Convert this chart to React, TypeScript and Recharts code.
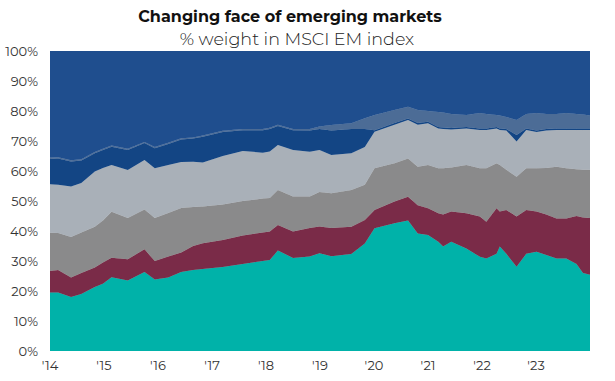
import React from "react";
import { AreaChart, Area, XAxis, YAxis } from "recharts";

// sample dates (fractional years)
const dates = [
  2014.0, 2014.15, 2014.39, 2014.58, 2014.83, 2014.98, 2015.14, 2015.44, 2015.75, 2015.94,
  2016.19, 2016.43, 2016.65, 2016.83, 2017.2, 2017.57, 2017.94, 2018.07, 2018.22, 2018.5,
  2018.81, 2018.99, 2019.21, 2019.58, 2019.83, 2020.01, 2020.38, 2020.63, 2020.81, 2021.0,
  2021.19, 2021.28, 2021.43, 2021.71, 2021.96, 2022.08, 2022.27, 2022.33, 2022.45, 2022.64,
  2022.82, 2023.01, 2023.19, 2023.38, 2023.56, 2023.75, 2023.87, 2024.0,
];

// % weight of each band, bottom to top
const teal = [
  19.5, 19.5, 18.0, 19.0, 21.3, 22.4, 24.6, 23.5, 26.3, 23.8,
  24.5, 26.3, 27.0, 27.3, 28.0, 29.0, 30.0, 30.3, 33.5, 31.0,
  31.5, 32.6, 31.6, 32.3, 35.8, 40.9, 42.6, 43.5, 39.2, 38.7,
  36.4, 34.8, 36.4, 34.2, 31.4, 30.8, 32.4, 34.8, 32.4, 28.1,
  32.4, 33.1, 32.0, 30.8, 30.8, 29.0, 26.0, 25.4,
];
const maroon = [
  7.2, 7.5, 6.5, 7.0, 6.5, 7.1, 6.5, 7.1, 7.6, 6.2,
  7.0, 6.5, 8.0, 8.6, 9.0, 9.5, 9.5, 9.5, 8.5, 8.8,
  9.5, 8.9, 9.4, 9.1, 7.9, 6.1, 7.2, 7.9, 9.4, 8.9,
  9.5, 10.7, 10.1, 11.7, 13.4, 12.3, 15.2, 11.7, 14.6, 16.7,
  14.6, 13.4, 13.5, 13.4, 13.4, 16.0, 18.5, 18.9,
];
const grey = [
  12.7, 12.3, 13.5, 13.5, 13.6, 14.0, 15.3, 13.7, 13.3, 14.3,
  14.5, 14.9, 13.0, 12.3, 11.8, 11.5, 11.3, 11.2, 11.7, 11.7,
  10.5, 11.5, 11.6, 12.3, 11.7, 13.9, 12.8, 12.8, 12.8, 14.4,
  15.0, 15.4, 14.7, 16.1, 16.1, 17.8, 15.0, 15.5, 13.4, 13.3,
  13.9, 14.4, 15.5, 17.2, 16.7, 15.6, 15.9, 16.1,
];
const silver = [
  16.2, 16.1, 16.8, 16.5, 18.4, 17.5, 15.6, 16.0, 16.5, 16.6,
  16.0, 15.3, 15.1, 14.6, 16.2, 16.7, 15.3, 15.5, 15.0, 15.5,
  14.9, 14.0, 12.7, 12.2, 12.6, 12.2, 12.8, 12.8, 14.0, 13.9,
  13.3, 13.1, 12.6, 12.2, 12.8, 12.8, 11.6, 11.7, 13.1, 11.7,
  12.8, 12.1, 12.5, 12.3, 12.8, 13.1, 13.3, 13.3,
];
const navy = [
  8.4, 8.8, 8.4, 7.5, 6.1, 6.0, 6.1, 6.7, 5.6, 6.7,
  7.0, 7.5, 7.7, 8.6, 8.0, 6.9, 7.5, 7.5, 6.3, 6.6,
  7.1, 7.0, 8.2, 8.1, 6.0, 0.5, 0.6, 0.5, 0.6, 0.5,
  0.5, 0.5, 0.5, 0.5, 0.5, 0.5, 0.5, 0.5, 0.5, 2.2,
  0.5, 0.5, 0.5, 0.5, 0.5, 0.5, 0.5, 0.5,
];
const slate = [
  0.5, 0.4, 0.4, 0.4, 0.4, 0.4, 0.4, 0.4, 0.4, 0.4,
  0.4, 0.4, 0.4, 0.4, 0.4, 0.4, 0.4, 0.4, 0.4, 0.4,
  0.5, 0.8, 1.8, 1.9, 3.6, 5.1, 4.3, 3.9, 4.3, 3.6,
  5.0, 5.0, 4.7, 4.0, 5.1, 4.8, 4.0, 4.3, 4.0, 5.0,
  4.8, 5.8, 5.0, 4.8, 5.1, 4.8, 4.6, 4.3,
];
const blue = [
  35.5, 35.4, 36.4, 36.1, 33.7, 32.6, 31.5, 32.6, 30.3, 32.0,
  30.6, 29.1, 28.8, 28.2, 26.6, 26.0, 26.0, 25.6, 24.6, 26.0,
  26.0, 25.2, 24.7, 24.1, 22.4, 21.3, 19.7, 18.6, 19.7, 20.0,
  20.3, 20.5, 21.0, 21.3, 20.7, 21.0, 21.3, 21.5, 22.0, 23.0,
  21.0, 20.7, 21.0, 21.0, 20.7, 21.0, 21.2, 21.5,
];

const yearTicks = [2014, 2015, 2016, 2017, 2018, 2019, 2020, 2021, 2022, 2023];
const pctTicks = [0, 10, 20, 30, 40, 50, 60, 70, 80, 90, 100];

const bands = [
  { key: "teal", color: "#00b2a9" },
  { key: "maroon", color: "#7a2b48" },
  { key: "grey", color: "#8a8a8b" },
  { key: "silver", color: "#a9b0b8" },
  { key: "navy", color: "#134584" },
  { key: "slate", color: "#4c6c96" },
  { key: "blue", color: "#1f4e8e" },
];

const data = dates.map((d, i) => ({
  date: d,
  teal: teal[i],
  maroon: maroon[i],
  grey: grey[i],
  silver: silver[i],
  navy: navy[i],
  slate: slate[i],
  blue: blue[i],
}));

const font = "Montserrat, 'Open Sans', sans-serif";

export default function App() {
  return (
    <div style={{ position: "absolute", left: 0, top: 0, width: 615, height: 381, background: "#fff", fontFamily: font }}>
      <div style={{ position: "absolute", left: 0, width: 580, top: 7, textAlign: "center", fontSize: 16, fontWeight: 700, color: "#111" }}>
        Changing face of emerging markets
      </div>
      <div style={{ position: "absolute", left: 0, width: 594, top: 28, textAlign: "center", fontSize: 17.5, fontWeight: 300, color: "#222" }}>
        % weight in MSCI EM index
      </div>
      <AreaChart
        width={615}
        height={381}
        data={data}
        margin={{ top: 51, right: 25, bottom: 0, left: 0 }}
        style={{ position: "absolute", left: 0, top: 0 }}
      >
        <XAxis
          dataKey="date"
          type="number"
          domain={[2014, 2024]}
          ticks={yearTicks}
          tickFormatter={(v: number) => "'" + String(v).slice(2)}
          axisLine={false}
          tickLine={false}
          tick={{ fontSize: 13, fill: "#333", fontFamily: font }}
          tickMargin={4}
          height={30}
        />
        <YAxis
          domain={[0, 100]}
          ticks={pctTicks}
          tickFormatter={(v: number) => v + "%"}
          axisLine={false}
          tickLine={false}
          tick={{ fontSize: 13, fill: "#333", fontFamily: font }}
          width={50}
          tickMargin={6}
          allowDataOverflow
        />
        {bands.map((b) => (
          <Area
            key={b.key}
            dataKey={b.key}
            stackId="w"
            type="linear"
            fill={b.color}
            fillOpacity={1}
            stroke={b.color}
            strokeWidth={0.6}
            isAnimationActive={false}
            dot={false}
            activeDot={false}
          />
        ))}
      </AreaChart>
    </div>
  );
}
